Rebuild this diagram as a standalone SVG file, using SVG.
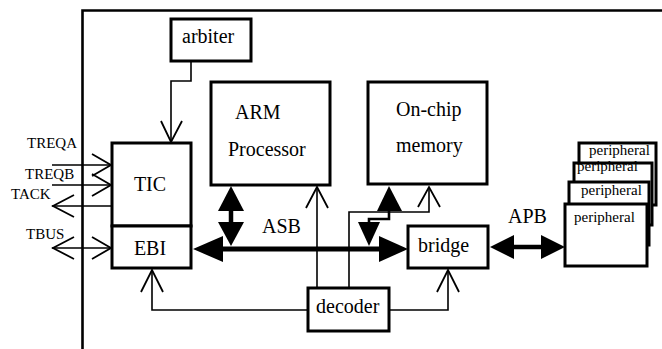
<svg xmlns="http://www.w3.org/2000/svg" width="662" height="349" viewBox="0 0 662 349">
<style>
.box{fill:#fff;stroke:#000;stroke-width:3}
.pbox{fill:#fff;stroke:#000;stroke-width:3}
.t{font-family:"Liberation Serif","Times New Roman",serif;font-size:20px;fill:#000}
.s{font-family:"Liberation Serif","Times New Roman",serif;font-size:15px;fill:#000}
.ln{fill:none;stroke:#000;stroke-width:1.6}
.oa{fill:none;stroke:#000;stroke-width:1.8}
.fa{fill:#000;stroke:none}
.thick{fill:none;stroke:#000}
</style>
<g id="frame"><path d="M82.5 349 V10.5 H662" fill="none" stroke="#000" stroke-width="2.6"/></g>
<g id="connectors">
  <!-- arbiter to TIC -->
  <path class="ln" d="M191 61 V81 H171 V142"/>
  <path class="oa" d="M161 121 L171 142 L182 121"/>
  <!-- left signals -->
  <path class="ln" d="M52 165 H112 M52 185 H112 M52 206 H112 M52 248 H112"/>
  <path class="oa" d="M92 154 L111 165 L92 176 M92 174 L111 185 L92 196 M74 195 L53 206 L74 217 M74 237 L53 248 L74 259 M92 237 L111 248 L92 259"/>
  <!-- ASB bus -->
  <path class="thick" stroke-width="5" d="M215 249 H390"/>
  <polygon class="fa" points="193,249 223,236 223,262"/>
  <polygon class="fa" points="408,249 379,236 379,262"/>
  <!-- ARM double arrow -->
  <path class="thick" stroke-width="4.5" d="M231 208 V226"/>
  <polygon class="fa" points="231,186 218,211 244,211"/>
  <polygon class="fa" points="231,246 218,222 244,222"/>
  <!-- memory filled arrows -->
  <polygon class="fa" points="389,186 377,211 402,211"/>
  <path class="thick" stroke-width="2.6" d="M389 209 V219 H369 V225"/>
  <polygon class="fa" points="369,246 358,222 380,222"/>
  <!-- decoder to ARM -->
  <path class="ln" d="M317 288 V187"/>
  <path class="oa" d="M306 208 L317 187 L328 208"/>
  <!-- decoder to memory -->
  <path class="ln" d="M349 288 V212 H429 V187"/>
  <path class="oa" d="M418 207 L429 187 L440 207"/>
  <!-- decoder to EBI -->
  <path class="ln" d="M308 310 H152 V270"/>
  <path class="oa" d="M141 292 L152 270 L163 292"/>
  <!-- decoder to bridge -->
  <path class="ln" d="M389 310 H448 V270"/>
  <path class="oa" d="M437 292 L448 270 L459 292"/>
  <!-- APB -->
  <path class="thick" stroke-width="4.5" d="M505 247 H550"/>
  <polygon class="fa" points="490,247 514,235 514,259"/>
  <polygon class="fa" points="565,247 541,235 541,259"/>
  <text class="t" x="262" y="233">ASB</text>
  <text class="t" x="508" y="223">APB</text>
</g>
<g id="arbiter"><rect class="box" x="171" y="19" width="80" height="42"/><text class="t" x="182" y="43">arbiter</text></g>
<g id="tic"><rect class="box" x="112" y="143" width="79" height="83"/><text class="t" x="150" y="191" text-anchor="middle">TIC</text></g>
<g id="ebi"><rect class="box" x="112" y="226" width="79" height="42"/><text class="t" x="150" y="255" text-anchor="middle">EBI</text></g>
<g id="labels-left">
  <text class="s" x="27" y="148">TREQA</text>
  <text class="s" x="25" y="179">TREQB</text>
  <text class="s" x="11" y="199">TACK</text>
  <text class="s" x="26" y="239">TBUS</text>
</g>
<g id="arm"><rect class="box" x="211" y="82" width="119" height="103"/><text class="t" x="235" y="119">ARM</text><text class="t" x="228" y="156">Processor</text></g>
<g id="memory"><rect class="box" x="368" y="82" width="119" height="102"/><text class="t" x="396" y="116">On-chip</text><text class="t" x="396" y="152">memory</text></g>
<g id="bridge"><rect class="box" x="408" y="226" width="80" height="42"/><text class="t" x="418" y="252">bridge</text></g>
<g id="decoder"><rect class="box" x="308" y="288" width="81" height="43"/><text class="t" x="316" y="313">decoder</text></g>
<g id="peripheral4"><rect class="pbox" x="579" y="143" width="77" height="62"/><text class="s" x="589" y="155">peripheral</text></g>
<g id="peripheral3"><rect class="pbox" x="574" y="163" width="78" height="62"/><text class="s" x="577" y="171">peripheral</text></g>
<g id="peripheral2"><rect class="pbox" x="569" y="182" width="80" height="63"/><text class="s" x="581" y="195">peripheral</text></g>
<g id="peripheral1"><rect class="pbox" x="565" y="204" width="82" height="62"/><text class="s" x="574" y="222">peripheral</text></g>
</svg>
